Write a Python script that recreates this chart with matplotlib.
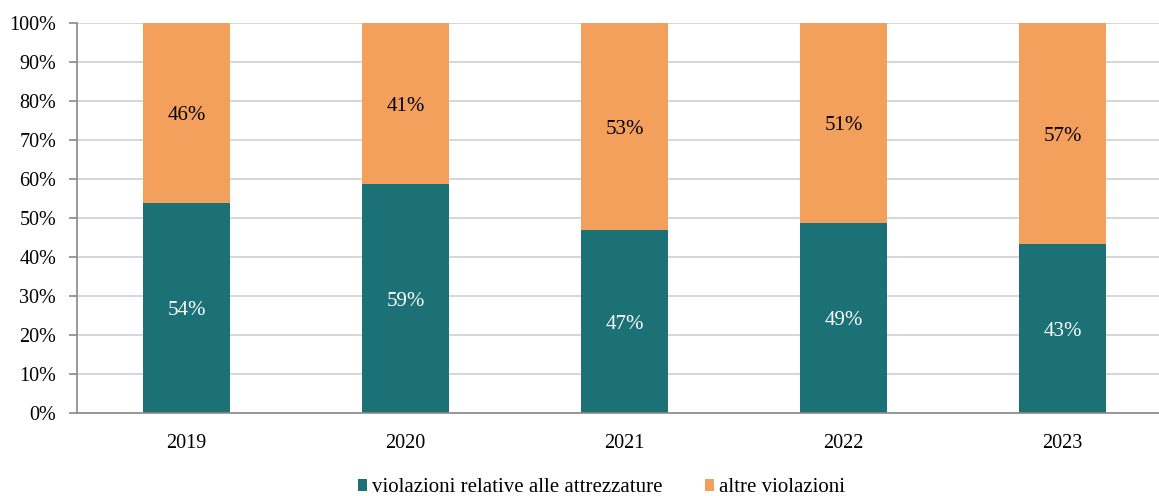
import matplotlib.pyplot as plt
import numpy as np

years = ["2019", "2020", "2021", "2022", "2023"]
attrezzature = [53.9, 58.6, 46.8, 48.6, 43.3]
altre = [46.1, 41.4, 53.2, 51.4, 56.7]
labels = ["violazioni relative alle attrezzature", "altre violazioni"]

teal = "#1B7176"
orange = "#F3A05D"

plt.rcParams["font.family"] = ["Liberation Serif", "DejaVu Serif"]
plt.rcParams["font.size"] = 14.5

fig = plt.figure(figsize=(11.59, 4.96), dpi=100)
ax = fig.add_axes([77 / 1159, 1 - 413 / 496, 1 - 77 / 1159, 390 / 496])

x = np.arange(len(years))
w = 0.4
b1 = ax.bar(x, attrezzature, w, color=teal, label=labels[0], zorder=3)
b2 = ax.bar(x, altre, w, bottom=attrezzature, color=orange, label=labels[1], zorder=3)

for i in range(len(years)):
    ax.text(x[i], attrezzature[i] / 2, f"{attrezzature[i]:.0f}%", ha="center", va="center_baseline",
            color="white", fontsize=15, zorder=4)
    ax.text(x[i], attrezzature[i] + altre[i] / 2, f"{altre[i]:.0f}%", ha="center", va="center_baseline",
            color="black", fontsize=15, zorder=4)

ax.set_ylim(0, 100)
ax.set_xlim(-0.5, 4.44)
ax.set_yticks(np.arange(0, 101, 10))
ax.set_yticklabels([f"{v}%" for v in range(0, 101, 10)])
ax.set_xticks(x)
ax.set_xticklabels(years)
ax.yaxis.grid(True, color="#D0D0D0", linewidth=1.2, zorder=0)
ax.tick_params(axis="y", length=6, color="#898989", width=1.2, pad=9)
ax.tick_params(axis="x", length=0, pad=15)
for s in ["top", "right"]:
    ax.spines[s].set_visible(False)
for s in ["left", "bottom"]:
    ax.spines[s].set_color("#898989")
    ax.spines[s].set_linewidth(1.2)
    ax.spines[s].set_zorder(5)

fig.legend(handles=[b1, b2], labels=labels, loc="center", bbox_to_anchor=(0.519, 1 - 488 / 496),
           ncol=2, frameon=False, handlelength=0.45, handleheight=0.45, handletextpad=0.25,
           columnspacing=2.0, fontsize=15)

fig.savefig("out.png", dpi=100)
